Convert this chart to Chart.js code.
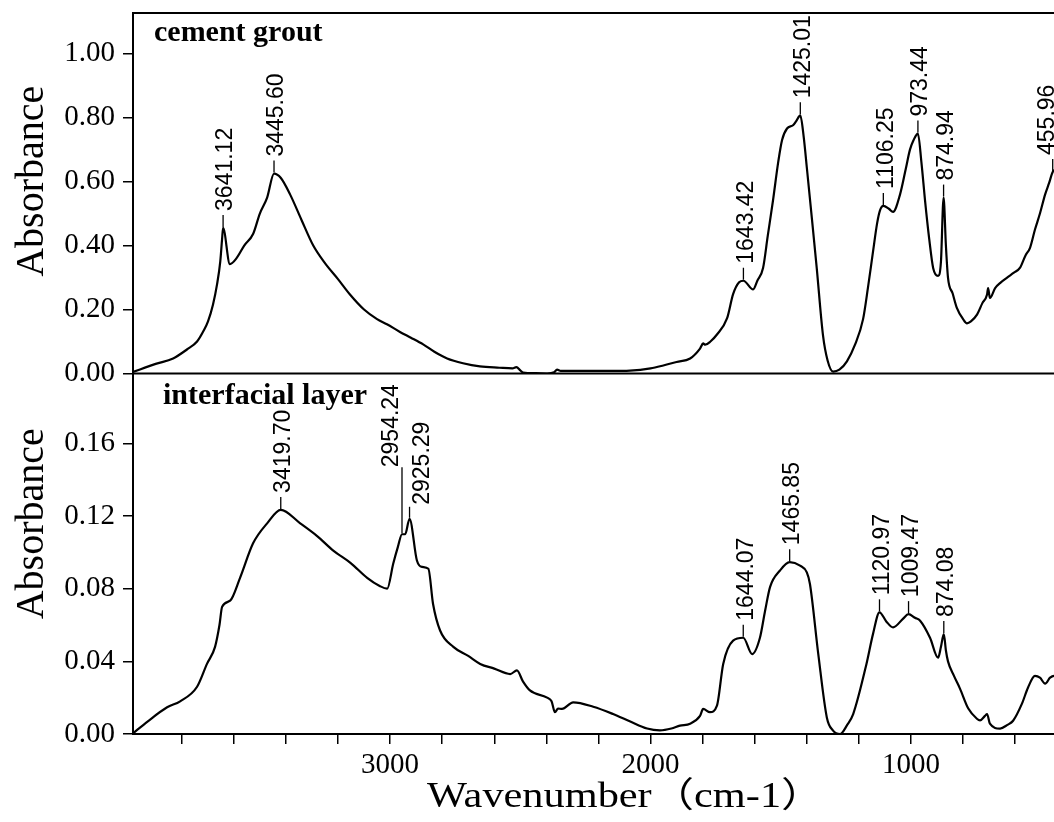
<!DOCTYPE html>
<html>
<head>
<meta charset="utf-8">
<title>FTIR spectra</title>
<script src="https://cdn.jsdelivr.net/npm/chart.js@4.4.1/dist/chart.umd.min.js"></script>
<style>
  html, body { margin: 0; padding: 0; background: #fff; }
  canvas { display: block; }
</style>
</head>
<body>
<canvas id="ftir" width="1054" height="822"></canvas>
<script>
// cement grout spectrum (wavenumber, absorbance)
const groutWn = [3990, 3900, 3833, 3780, 3741, 3715, 3699, 3680, 3664, 3652, 3645, 3641.12, 3615, 3590, 3560, 3526, 3500, 3472,
  3445.60, 3420, 3384, 3340, 3295, 3250, 3200, 3154, 3100, 3050, 3012, 2962, 2920, 2873, 2830, 2781, 2720, 2655, 2580, 2530,
  2515, 2500, 2489, 2440, 2397, 2370, 2359, 2345, 2270, 2150, 2079, 2000, 1951, 1900, 1848, 1810, 1798, 1790, 1770, 1745,
  1706, 1683, 1660, 1643.42, 1606, 1590, 1568, 1550, 1530, 1510, 1495, 1476, 1453, 1440, 1425.01, 1412, 1400, 1380, 1362,
  1338, 1320, 1299, 1275, 1246, 1215, 1184, 1165, 1146, 1130, 1119, 1106.25, 1085, 1069, 1042, 1020, 1004, 990, 973.44,
  960, 946, 930, 915, 896, 885, 874.94, 866, 858, 840, 824, 800, 785, 770, 746, 726, 708, 704, 697, 677, 655, 631, 605,
  582, 560, 543, 524, 505, 485, 470, 455.96, 440];
const groutAbs = [0.004, 0.030, 0.047, 0.075, 0.100, 0.135, 0.163, 0.215, 0.280, 0.350, 0.420, 0.455, 0.342, 0.360, 0.400,
  0.436, 0.500, 0.550, 0.625, 0.612, 0.560, 0.480, 0.400, 0.345, 0.295, 0.247, 0.200, 0.170, 0.154, 0.130, 0.112, 0.091,
  0.068, 0.047, 0.032, 0.022, 0.018, 0.016, 0.020, 0.010, 0.003, 0.001, 0.000, 0.004, 0.012, 0.008, 0.008, 0.008, 0.009,
  0.016, 0.025, 0.036, 0.047, 0.078, 0.094, 0.090, 0.100, 0.122, 0.173, 0.248, 0.285, 0.290, 0.263, 0.290, 0.330, 0.430,
  0.540, 0.660, 0.730, 0.766, 0.776, 0.790, 0.807, 0.740, 0.644, 0.480, 0.330, 0.120, 0.040, 0.006, 0.012, 0.038, 0.090,
  0.170, 0.270, 0.380, 0.470, 0.510, 0.524, 0.515, 0.505, 0.560, 0.640, 0.700, 0.730, 0.750, 0.660, 0.540, 0.420, 0.330,
  0.305, 0.350, 0.550, 0.400, 0.300, 0.250, 0.205, 0.170, 0.157, 0.163, 0.185, 0.220, 0.247, 0.267, 0.236, 0.267, 0.285,
  0.300, 0.315, 0.330, 0.370, 0.393, 0.450, 0.500, 0.560, 0.595, 0.630, 0.640];
const groutPeaks = [3641.12, 3445.60, 1643.42, 1425.01, 1106.25, 973.44, 874.94, 455.96];

// interfacial layer spectrum
const layerWn = [3990, 3930, 3856, 3806, 3741, 3703, 3672, 3655, 3645, 3614, 3576, 3526, 3472, 3419.70, 3345, 3280, 3218,
  3150, 3088, 3040, 3011, 2988, 2970, 2954.24, 2942, 2925.29, 2897, 2877, 2853, 2835, 2808, 2757, 2700, 2654, 2600, 2539,
  2513, 2490, 2463, 2397, 2380, 2367, 2355, 2340, 2297, 2220, 2144, 2080, 2013, 1964, 1920, 1887, 1848, 1810, 1798, 1772,
  1745, 1721, 1683, 1644.07, 1610, 1580, 1560, 1541, 1503, 1465.85, 1426, 1400, 1388, 1356, 1323, 1300, 1272, 1245, 1222,
  1171, 1146, 1120.97, 1095, 1069, 1031, 1009.47, 985, 965, 927, 896, 885, 874.08, 866, 858, 835, 812, 780, 747, 735, 716,
  708, 697, 658, 630, 608, 574, 551, 524, 505, 485, 466, 451, 440];
const layerAbs = [0.000, 0.007, 0.0147, 0.018, 0.026, 0.0386, 0.048, 0.060, 0.070, 0.0734, 0.086, 0.105, 0.116, 0.1234,
  0.116, 0.109, 0.101, 0.094, 0.086, 0.0815, 0.080, 0.0937, 0.103, 0.110, 0.110, 0.1185, 0.0955, 0.092, 0.091, 0.0716,
  0.057, 0.048, 0.043, 0.0386, 0.036, 0.033, 0.035, 0.029, 0.024, 0.020, 0.018, 0.012, 0.014, 0.0138, 0.0174, 0.015,
  0.011, 0.007, 0.003, 0.002, 0.003, 0.0046, 0.0057, 0.010, 0.0138, 0.012, 0.0156, 0.0386, 0.0514, 0.053, 0.044, 0.053,
  0.068, 0.081, 0.090, 0.0946, 0.0927, 0.089, 0.0826, 0.044, 0.009, 0.002, 0.000, 0.005, 0.011, 0.0386, 0.055, 0.067,
  0.062, 0.0587, 0.0634, 0.066, 0.064, 0.0624, 0.053, 0.042, 0.048, 0.055, 0.046, 0.040, 0.032, 0.025, 0.014, 0.0084,
  0.0075, 0.010, 0.011, 0.0057, 0.003, 0.005, 0.0073, 0.0167, 0.0255, 0.032, 0.031, 0.0277, 0.031, 0.032, 0.031];
const layerPeaks = [3419.70, 2954.24, 2925.29, 1644.07, 1465.85, 1120.97, 1009.47, 874.08];

// tick labels
const wnTickLabels = [3000, 2000, 1000];
const groutTickLabels = ['0.00', '0.20', '0.40', '0.60', '0.80', '1.00'];
const layerTickLabels = ['0.00', '0.04', '0.08', '0.12', '0.16'];

const serif = '"Liberation Serif", "Times New Roman", serif';
const sans = '"Liberation Sans", Arial, sans-serif';

const toPoints = (xs, ys) => xs.map((x, i) => ({ x: x, y: ys[i] }));

// small nudges so crowded peak labels don't collide
const labelNudge = {
  '2954.24': { lead: 66, gap: 0, dx: -10 },
  '2925.29': { lead: 11, gap: 2, dx: 13 },
  '455.96': { dx: -5 }
};

const peakLabels = {
  id: 'peakLabels',
  afterDatasetsDraw(chart) {
    const ctx = chart.ctx;
    const xs = chart.scales.x;
    ctx.save();
    ctx.strokeStyle = '#000';
    ctx.fillStyle = '#000';
    ctx.lineWidth = 1.3;
    ctx.font = '23px ' + sans;
    ctx.textAlign = 'left';
    ctx.textBaseline = 'middle';
    chart.data.datasets.forEach(ds => {
      const ys = chart.scales[ds.yAxisID];
      ds.peaks.forEach(p => {
        const pt = ds.data.find(d => d.x === p);
        const txt = p.toFixed(2);
        const n = Object.assign({ lead: 12, gap: 4, dx: 3 }, labelNudge[txt] || {});
        const px = xs.getPixelForValue(p);
        const py = ys.getPixelForValue(pt.y) - 1;
        ctx.beginPath();
        ctx.moveTo(px, py);
        ctx.lineTo(px, py - n.lead);
        ctx.stroke();
        ctx.save();
        ctx.translate(px + n.dx, py - n.lead - n.gap);
        ctx.rotate(-Math.PI / 2);
        ctx.fillText(txt, 0, 0);
        ctx.restore();
      });
    });
    ctx.restore();
  }
};

const frameAndTitles = {
  id: 'frameAndTitles',
  afterDraw(chart) {
    const ctx = chart.ctx, area = chart.chartArea;
    const top = chart.scales.yTop, bot = chart.scales.yBot;
    ctx.save();
    ctx.strokeStyle = '#000';
    ctx.lineWidth = 2;
    ctx.beginPath();
    ctx.moveTo(area.left, top.top);
    ctx.lineTo(area.right, top.top);
    ctx.moveTo(area.left, top.bottom);
    ctx.lineTo(area.right, top.bottom);
    ctx.stroke();

    ctx.fillStyle = '#000';
    ctx.textAlign = 'left';
    ctx.textBaseline = 'alphabetic';
    ctx.font = 'bold 30px ' + serif;
    ctx.fillText('cement grout', area.left + 21, top.top + 28);
    ctx.fillText('interfacial layer', area.left + 30, bot.top + 30);

    ctx.font = '40px ' + serif;
    ctx.textAlign = 'center';
    [[top, -12], [bot, -30]].forEach(([s, dy]) => {
      ctx.save();
      ctx.translate(43, (s.top + s.bottom) / 2 + dy);
      ctx.rotate(-Math.PI / 2);
      ctx.fillText('Absorbance', 0, 0);
      ctx.restore();
    });

    ctx.save();
    ctx.font = '35px ' + serif + ', "Noto Sans CJK SC"';
    ctx.textAlign = 'left';
    ctx.translate(area.left + 294, chart.height - 15);
    ctx.scale(1.21, 1);
    ctx.fillText('Wavenumber（cm-1）', 0, 0);
    ctx.restore();
    ctx.restore();
  }
};

const yAxis = (max, step, labels) => ({
  type: 'linear',
  position: 'left',
  stack: 'panels',
  stackWeight: 1,
  min: 0,
  max: max,
  border: { display: true, color: '#000', width: 2 },
  grid: { drawOnChartArea: false, drawTicks: true, tickLength: 10, color: '#000', lineWidth: 1.5 },
  ticks: {
    stepSize: step,
    includeBounds: false,
    padding: 8,
    color: '#000',
    font: { family: serif, size: 29 },
    callback: v => labels.includes(v.toFixed(2)) ? v.toFixed(2) : ''
  },
  afterFit: s => { s.width = 133; s.paddingTop = 0; s.paddingBottom = 0; }
});

new Chart(document.getElementById('ftir'), {
  type: 'line',
  data: {
    datasets: [
      { label: 'interfacial layer', data: toPoints(layerWn, layerAbs), peaks: layerPeaks, yAxisID: 'yBot' },
      { label: 'cement grout', data: toPoints(groutWn, groutAbs), peaks: groutPeaks, yAxisID: 'yTop' }
    ]
  },
  options: {
    responsive: false,
    devicePixelRatio: 1,
    animation: false,
    layout: { padding: { top: 13, right: 0, bottom: 0, left: 0 } },
    elements: {
      line: { borderColor: '#000', borderWidth: 2.2, cubicInterpolationMode: 'monotone', fill: false },
      point: { radius: 0 }
    },
    plugins: { legend: { display: false }, tooltip: { enabled: false } },
    scales: {
      x: {
        type: 'linear',
        reverse: true,
        min: 451,
        max: 3987,
        border: { display: true, color: '#000', width: 2 },
        grid: { drawOnChartArea: false, drawTicks: true, tickLength: 10, color: '#000', lineWidth: 1.5 },
        ticks: {
          stepSize: 200,
          includeBounds: false,
          autoSkip: false,
          maxRotation: 0,
          padding: 4,
          color: '#000',
          font: { family: serif, size: 29 },
          callback: v => wnTickLabels.includes(v) ? String(v) : ''
        },
        afterFit: s => { s.height = 88; s.paddingLeft = 0; s.paddingRight = 0; }
      },
      yBot: yAxis(0.1985, 0.02, layerTickLabels),
      yTop: yAxis(1.127, 0.1, groutTickLabels)
    }
  },
  plugins: [peakLabels, frameAndTitles]
});
</script>
</body>
</html>
